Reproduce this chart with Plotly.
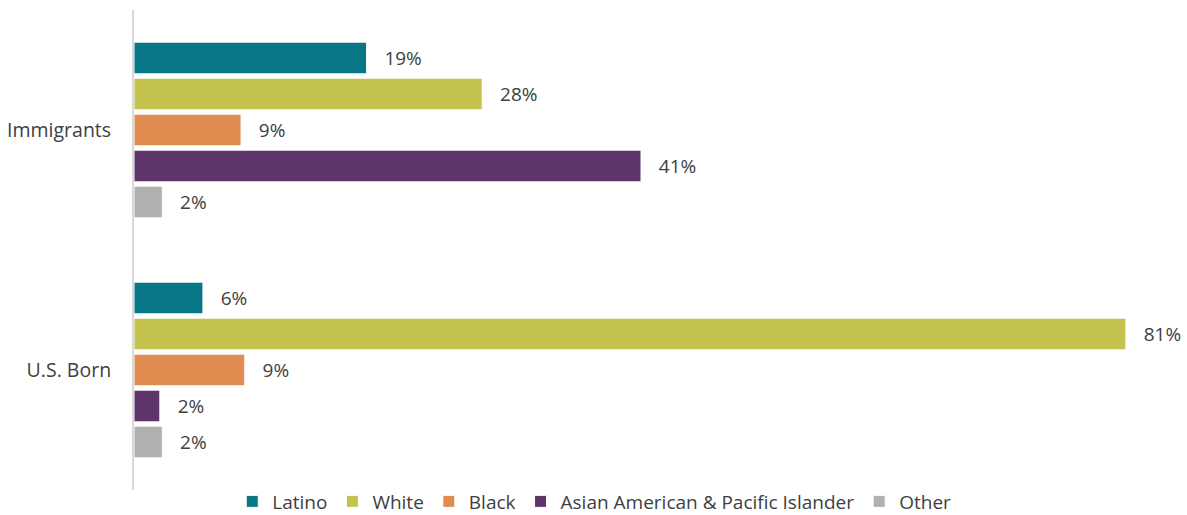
import plotly.graph_objects as go

categories = ["Immigrants", "U.S. Born"]
series_names = ["Latino", "White", "Black", "Asian American & Pacific Islander", "Other"]
latino = [18.9, 5.6]
white = [28.3, 80.6]
black = [8.7, 9.0]
aapi = [41.2, 2.1]
other = [2.3, 2.3]
colors = ["#077786", "#c5c350", "#e08b50", "#5e356b", "#b0b0b0"]

values = [latino, white, black, aapi, other]

fig = go.Figure()
for name, vals, col in zip(series_names, values, colors):
    fig.add_trace(go.Bar(
        y=categories, x=vals, name=name, orientation="h",
        marker=dict(color=col, line=dict(color="white", width=1)),
        text=[f"{round(v)}%" for v in vals],
        texttemplate="\u00a0\u00a0\u00a0%{text}",
        textposition="outside", cliponaxis=False,
        textfont=dict(family="Open Sans", size=19, color="#404040"),
    ))

fig.update_layout(
    width=1187, height=515,
    barmode="group", bargap=0.25, bargroupgap=0.12,
    margin=dict(l=134, r=7, t=10, b=25, autoexpand=False),
    paper_bgcolor="white", plot_bgcolor="white",
    font=dict(family="Open Sans", size=19, color="#404040"),
    showlegend=True,
    legend=dict(orientation="h", x=0.44, xanchor="center",
                y=-0.024, yanchor="middle", font=dict(size=19, color="#404040"),
                tracegroupgap=0, itemwidth=30),
    xaxis=dict(range=[0, 85], autorange=False, showgrid=False, zeroline=False,
               showticklabels=False, showline=False),
    yaxis=dict(autorange="reversed", showgrid=False, zeroline=False,
               showline=True, linecolor="#d9d9d9", linewidth=2,
               ticks="", ticklabelstandoff=17,
               tickfont=dict(size=19.5, color="#404040")),
)

fig.write_html("out.html")
